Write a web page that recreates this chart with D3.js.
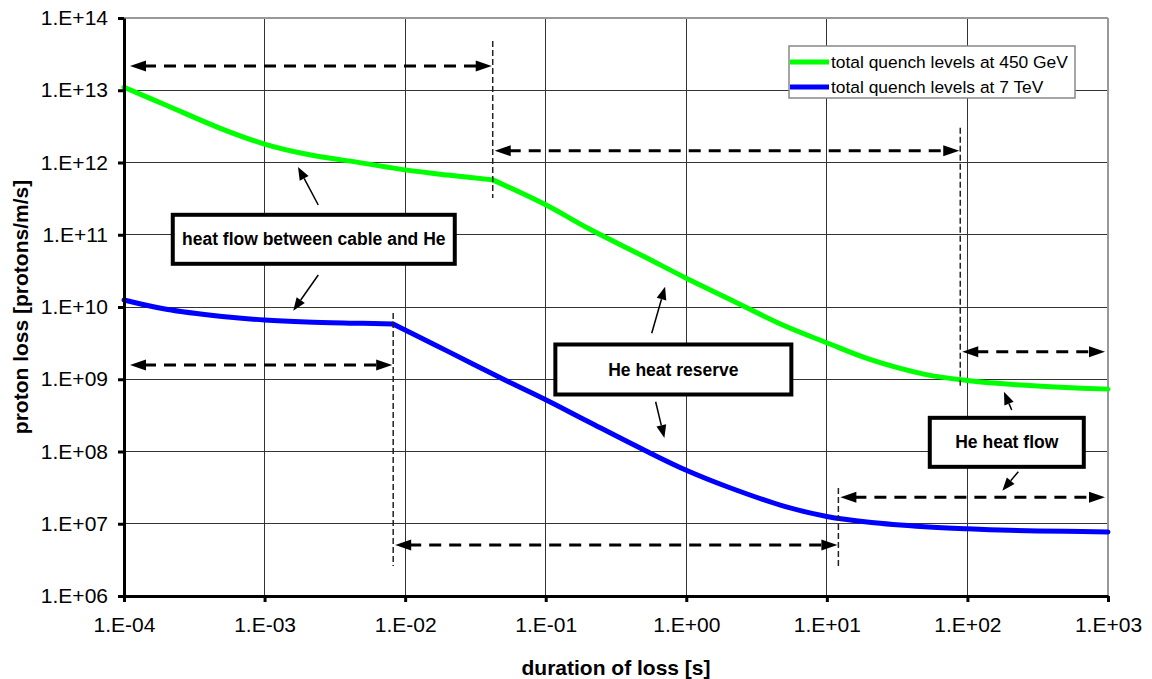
<!DOCTYPE html>
<html><head><meta charset="utf-8">
<script src="https://cdn.jsdelivr.net/npm/d3@7"></script>
<style>
body{margin:0;background:#fff;}
svg{display:block;font-family:"Liberation Sans",Arial,Helvetica,sans-serif;}
</style>
</head><body>
<svg id="chart" width="1152" height="679"></svg>
<script>
// ---------- data ----------
const xTickValues = [1e-4, 1e-3, 1e-2, 1e-1, 1e0, 1e1, 1e2, 1e3];
const yTickValues = [1e6, 1e7, 1e8, 1e9, 1e10, 1e11, 1e12, 1e13, 1e14];

const durations450 = [1e-4, 2e-4, 5e-4, 1e-3, 2e-3, 5e-3, 1e-2, 2e-2, 0.042, 0.1, 0.2, 0.5, 1, 2, 5, 10, 20, 50, 100, 200, 500, 1000];
const quench450   = [1.1e13, 6.2e12, 2.9e12, 1.8e12, 1.3e12, 9.8e11, 7.9e11, 6.7e11, 5.75e11, 2.6e11, 1.23e11, 5.0e10, 2.5e10, 1.3e10, 5.5e9, 3.2e9, 1.9e9, 1.17e9, 9.6e8, 8.5e8, 7.7e8, 7.3e8];
const kink450 = 0.042;

const durations7 = [1e-4, 2e-4, 5e-4, 1e-3, 2e-3, 5e-3, 0.0082, 0.01, 0.02, 0.05, 0.1, 0.2, 0.5, 1, 2, 5, 10, 20, 50, 100, 200, 500, 1000];
const quench7   = [1.25e10, 9.3e9, 7.4e9, 6.6e9, 6.2e9, 5.95e9, 5.8e9, 4.8e9, 2.45e9, 1.0e9, 5.2e8, 2.6e8, 1.05e8, 5.5e7, 3.2e7, 1.74e7, 1.26e7, 1.05e7, 9.1e6, 8.5e6, 8.1e6, 7.85e6, 7.7e6];
const kink7 = 0.0082;

const seriesNames = ["total quench levels at 450 GeV", "total quench levels at 7 TeV"];
const seriesColors = ["#00FF00", "#0000FF"];
const xTitle = "duration of loss [s]";
const yTitle = "proton loss [protons/m/s]";

// annotations, in log10 data units
const rangeArrows = [
  {ly: 13.335, a: -4,     b: -1.377},
  {ly: 12.163, a: -1.377, b: 1.949},
  {ly: 9.381,  a: 1.949,  b: 3},
  {ly: 7.366,  a: 1.082,  b: 3},
  {ly: 6.706,  a: -2.085, b: 1.082},
  {ly: 9.197,  a: -4,     b: -2.085}
];
const phaseLines = [
  {lx: -1.377, y0: 13.68, y1: 11.51},
  {lx: 1.949,  y0: 12.48, y1: 8.89},
  {lx: 1.082,  y0: 7.495, y1: 6.415},
  {lx: -2.085, y0: 9.917, y1: 6.415}
];
const boxLabels = [
  {text: "heat flow between cable and He", lx: -2.650, ly: 10.937},
  {text: "He heat reserve", lx: -0.092, ly: 9.135},
  {text: "He heat flow", lx: 2.280, ly: 8.127}
];
const boxSizes = [[282, 49], [236, 50], [154, 49]];
const pointers = [
  {from: [-2.618, 11.412], to: [-2.762, 11.938]},
  {from: [-2.618, 10.443], to: [-2.796, 9.949]},
  {from: [-0.246, 9.636],  to: [-0.151, 10.281]},
  {from: [-0.218, 8.689],  to: [-0.156, 8.187]},
  {from: [2.315, 8.574],   to: [2.260, 8.828]},
  {from: [2.362, 7.720],   to: [2.248, 7.457]}
];

// ---------- layout ----------
const svg = d3.select("#chart");
const L = 124, R = 1108, T = 18, B = 596;
const x = d3.scaleLog().domain([1e-4, 1e3]).range([L, R]);
const y = d3.scaleLog().domain([1e6, 1e14]).range([B, T]);
const X = lx => x(Math.pow(10, lx));
const Y = ly => y(Math.pow(10, ly));

const fmt = v => {
  const e = Math.round(Math.log10(v));
  return "1.E" + (e < 0 ? "-" : "+") + String(Math.abs(e)).padStart(2, "0");
};

// grid
const grid = svg.append("g").attr("shape-rendering", "crispEdges");
grid.selectAll("line.v").data(xTickValues.slice(1, -1)).join("line")
  .attr("x1", d => x(d)).attr("x2", d => x(d)).attr("y1", T).attr("y2", B)
  .attr("stroke", "#333").attr("stroke-width", 1);
grid.selectAll("line.h").data(yTickValues.slice(1, -1)).join("line")
  .attr("y1", d => y(d)).attr("y2", d => y(d)).attr("x1", L).attr("x2", R)
  .attr("stroke", "#333").attr("stroke-width", 1);
grid.append("line").attr("x1", L).attr("x2", R).attr("y1", T).attr("y2", T).attr("stroke", "#999").attr("stroke-width", 2);
grid.append("line").attr("x1", R).attr("x2", R).attr("y1", T).attr("y2", B).attr("stroke", "#999").attr("stroke-width", 2);

// series: smooth segments on each side of the regime change (sharp corner there)
const line = d3.line().x(d => x(d[0])).y(d => y(d[1])).curve(d3.curveCatmullRom.alpha(0.5));
function segments(xs, ys, k) {
  const pts = d3.zip(xs, ys);
  return [pts.filter(p => p[0] <= k), pts.filter(p => p[0] >= k)];
}
const series = [segments(durations450, quench450, kink450), segments(durations7, quench7, kink7)];
series.forEach((segs, i) => {
  svg.append("g").selectAll("path").data(segs).join("path")
    .attr("d", line).attr("fill", "none")
    .attr("stroke", seriesColors[i]).attr("stroke-width", 5)
    .attr("stroke-linejoin", "round").attr("stroke-linecap", "round");
});

// axes
const xAxis = svg.append("g").attr("transform", `translate(0,${B})`)
  .call(d3.axisBottom(x).tickValues(xTickValues).tickFormat(fmt).tickSizeOuter(0).tickSizeInner(6).tickPadding(15));
const yAxis = svg.append("g").attr("transform", `translate(${L},0)`)
  .call(d3.axisLeft(y).tickValues(yTickValues).tickFormat(fmt).tickSizeOuter(0).tickSizeInner(6).tickPadding(10));
[xAxis, yAxis].forEach(g => {
  g.select(".domain").attr("stroke", "#000").attr("stroke-width", 3);
  g.selectAll(".tick line").attr("stroke", "#000").attr("stroke-width", 3);
  g.selectAll(".tick text").attr("fill", "#000").attr("font-size", "21px")
    .attr("font-family", '"Liberation Sans",Arial,sans-serif');
});
xAxis.selectAll(".tick text").attr("dy", "0.71em");

svg.append("text").attr("x", (L + R) / 2).attr("y", 668).attr("dy", "0.35em")
  .attr("text-anchor", "middle").attr("font-weight", "bold").attr("font-size", "21px").text(xTitle);
svg.append("text").attr("transform", `translate(21,${(T + B) / 2}) rotate(-90)`).attr("dy", "0.35em")
  .attr("text-anchor", "middle").attr("font-weight", "bold").attr("font-size", "21px").text(yTitle);

// helpers
function head(g, tx, ty, fx, fy, len, hw) {
  const dx = tx - fx, dy = ty - fy, d = Math.hypot(dx, dy);
  const ux = dx / d, uy = dy / d, nx = -uy, ny = ux;
  const bx = tx - ux * len, by = ty - uy * len;
  g.append("path").attr("d", `M${tx},${ty}L${bx + nx * hw},${by + ny * hw}L${bx - nx * hw},${by - ny * hw}Z`)
    .attr("fill", "#000");
  return [bx, by];
}

const ann = svg.append("g");
ann.selectAll("line.ph").data(phaseLines).join("line")
  .attr("x1", d => X(d.lx)).attr("x2", d => X(d.lx))
  .attr("y1", d => Y(d.y0)).attr("y2", d => Y(d.y1))
  .attr("stroke", "#222").attr("stroke-width", 1.5).attr("stroke-dasharray", "6,3");

rangeArrows.forEach(r => {
  const yy = Y(r.ly);
  let xa = X(r.a), xb = X(r.b);
  xa += (r.a <= -4 ? 6 : 2);
  xb -= (r.b >= 3 ? 3 : 1);
  const HL = 16, HW = 5.5;
  ann.append("line").attr("x1", xa + HL - 2).attr("x2", xb - HL + 2).attr("y1", yy).attr("y2", yy)
    .attr("stroke", "#000").attr("stroke-width", 3).attr("stroke-dasharray", "12,8");
  head(ann, xa, yy, xb, yy, HL, HW);
  head(ann, xb, yy, xa, yy, HL, HW);
});

pointers.forEach(p => {
  const fx = X(p.from[0]), fy = Y(p.from[1]), tx = X(p.to[0]), ty = Y(p.to[1]);
  const [bx, by] = head(ann, tx, ty, fx, fy, 13, 5);
  ann.append("line").attr("x1", fx).attr("y1", fy).attr("x2", bx).attr("y2", by)
    .attr("stroke", "#000").attr("stroke-width", 1.5);
});

boxLabels.forEach((b, i) => {
  const cx = X(b.lx), cy = Y(b.ly), [w, h] = boxSizes[i];
  ann.append("rect").attr("x", cx - w / 2).attr("y", cy - h / 2).attr("width", w).attr("height", h)
    .attr("fill", "#fff").attr("stroke", "#000").attr("stroke-width", 4);
  ann.append("text").attr("x", cx).attr("y", cy).attr("dy", "0.35em").attr("text-anchor", "middle")
    .attr("font-weight", "bold").attr("font-size", "17.5px").text(b.text);
});

// legend
const lg = svg.append("g");
lg.append("rect").attr("x", 789).attr("y", 46).attr("width", 286).attr("height", 52)
  .attr("fill", "#fff").attr("stroke", "#888").attr("stroke-width", 1.5);
seriesNames.forEach((n, i) => {
  const yy = 62 + i * 25;
  lg.append("line").attr("x1", 790).attr("x2", 829).attr("y1", yy).attr("y2", yy)
    .attr("stroke", seriesColors[i]).attr("stroke-width", 5);
  lg.append("text").attr("x", 831).attr("y", yy).attr("dy", "0.35em").attr("font-size", "17.4px").text(n);
});
</script>
</body></html>
